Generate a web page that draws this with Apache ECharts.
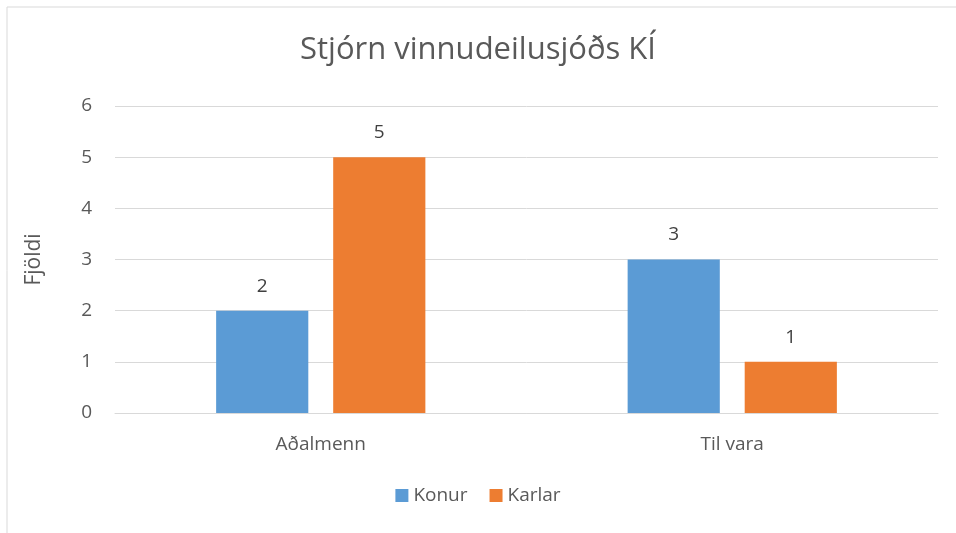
<!DOCTYPE html>
<html><head><meta charset="utf-8">
<script src="https://cdn.jsdelivr.net/npm/echarts@6/dist/echarts.min.js"></script>
<style>html,body{margin:0;padding:0;background:#fff}#c{width:956px;height:533px}</style>
</head><body><div id="c"></div>
<script>
const categories = ['Aðalmenn', 'Til vara'];
const konur = [2, 3];
const karlar = [5, 1];
const yTicks = [0, 1, 2, 3, 4, 5, 6];

const font = '"Open Sans", "Liberation Sans", sans-serif';
const chart = echarts.init(document.getElementById('c'), null, {renderer: 'canvas'});
chart.setOption({
  animation: false,
  backgroundColor: '#fff',
  graphic: [{type: 'rect', shape: {x: 7, y: 7, width: 1000, height: 600}, style: {fill: 'none', stroke: '#d9d9d9', lineWidth: 1}, silent: true}],
  title: {text: 'Stjórn vinnudeilusjóðs KÍ', left: 'center', top: 30,
    textStyle: {fontFamily: font, fontSize: 31, fontWeight: 'normal', color: '#595959'}},
  legend: {bottom: 23, left: 'center', itemWidth: 13, itemHeight: 13, itemGap: 22,
    icon: 'rect', textStyle: {fontFamily: font, fontSize: 19, color: '#595959'}},
  grid: {left: 115, right: 18, top: 106, bottom: 120, containLabel: false},
  xAxis: {type: 'category', data: categories,
    axisLine: {lineStyle: {color: '#d9d9d9'}}, axisTick: {show: false},
    axisLabel: {fontFamily: font, fontSize: 19, color: '#595959', margin: 22}},
  yAxis: {type: 'value', min: yTicks[0], max: yTicks[yTicks.length - 1], interval: 1,
    name: 'Fjöldi', nameLocation: 'middle', nameGap: 70, nameRotate: 90,
    nameTextStyle: {fontFamily: font, fontSize: 21, color: '#595959'},
    axisLine: {show: false}, axisTick: {show: false},
    splitLine: {lineStyle: {color: '#d9d9d9'}},
    axisLabel: {fontFamily: font, fontSize: 19, color: '#595959', margin: 23}},
  series: [
    {name: 'Konur', type: 'bar', data: konur, barWidth: '22.4%', barGap: '27%',
      itemStyle: {color: '#5b9bd5'},
      label: {show: true, position: 'top', distance: 15, fontFamily: font, fontSize: 19, color: '#404040'}},
    {name: 'Karlar', type: 'bar', data: karlar, barWidth: '22.4%', barGap: '27%',
      itemStyle: {color: '#ed7d31'},
      label: {show: true, position: 'top', distance: 15, fontFamily: font, fontSize: 19, color: '#404040'}}
  ]
});
</script></body></html>
